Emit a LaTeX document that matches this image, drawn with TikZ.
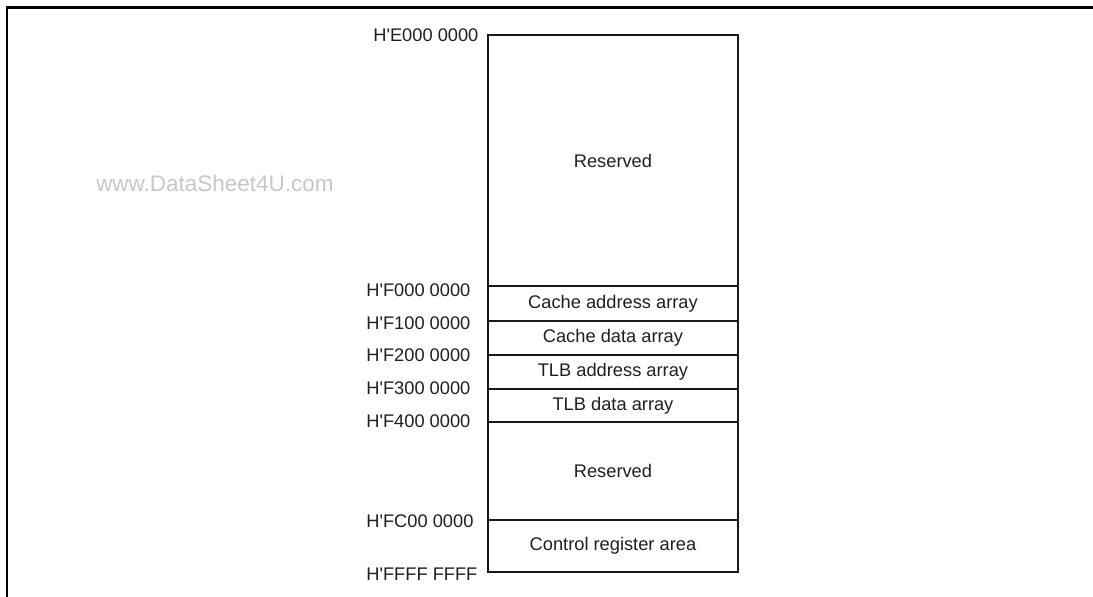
\documentclass[tikz,border=0pt]{standalone}
\usepackage{fontspec}
\setmainfont{Liberation Sans}
\usetikzlibrary{positioning}
\newcommand{\hq}{H\textquotesingle}

\begin{document}
\begin{tikzpicture}[x=0.02cm,y=-0.02cm,
  every node/.style={font=\fontsize{10.4}{12}\selectfont,text=black!88},
  cell/.style={draw=black!90,line width=1.1pt,minimum width=5cm,outer sep=0pt,inner sep=0pt},
  addr/.style={anchor=west,inner sep=0pt}]
\useasboundingbox (0,0) rectangle (1093,597);
% frame
\draw[line width=1.4pt] (7,597) -- (7,7.5) -- (1093,7.5);
\node[font=\fontsize{12.8}{14}\selectfont,text=black!22] (mark) at (215,183) {www.DataSheet4U.com};
% memory map
\node[cell,anchor=north west,minimum height=5.02cm] (res1) at (488,35) {Reserved};
\node[cell,below=0pt of res1,minimum height=0.7cm] (cadr) {Cache address array};
\node[cell,below=0pt of cadr,minimum height=0.68cm] (cdat) {Cache data array};
\node[cell,below=0pt of cdat,minimum height=0.68cm] (tadr) {TLB address array};
\node[cell,below=0pt of tadr,minimum height=0.66cm] (tdat) {TLB data array};
\node[cell,below=0pt of tdat,minimum height=1.96cm] (res2) {Reserved};
\node[cell,below=0pt of res2,minimum height=1.04cm] (ctrl) {Control register area};
% addresses
\node[addr] (aE000) at (373,35) {\hq E000 0000};
\node[addr] (aF000) at (366,290) {\hq F000 0000};
\node[addr] (aF100) at (366,323) {\hq F100 0000};
\node[addr] (aF200) at (366,355) {\hq F200 0000};
\node[addr] (aF300) at (366,388) {\hq F300 0000};
\node[addr] (aF400) at (366,421) {\hq F400 0000};
\node[addr] (aFC00) at (366,521) {\hq FC00 0000};
\node[addr] (aFFFF) at (366,574) {\hq FFFF FFFF};
\end{tikzpicture}
\end{document}
